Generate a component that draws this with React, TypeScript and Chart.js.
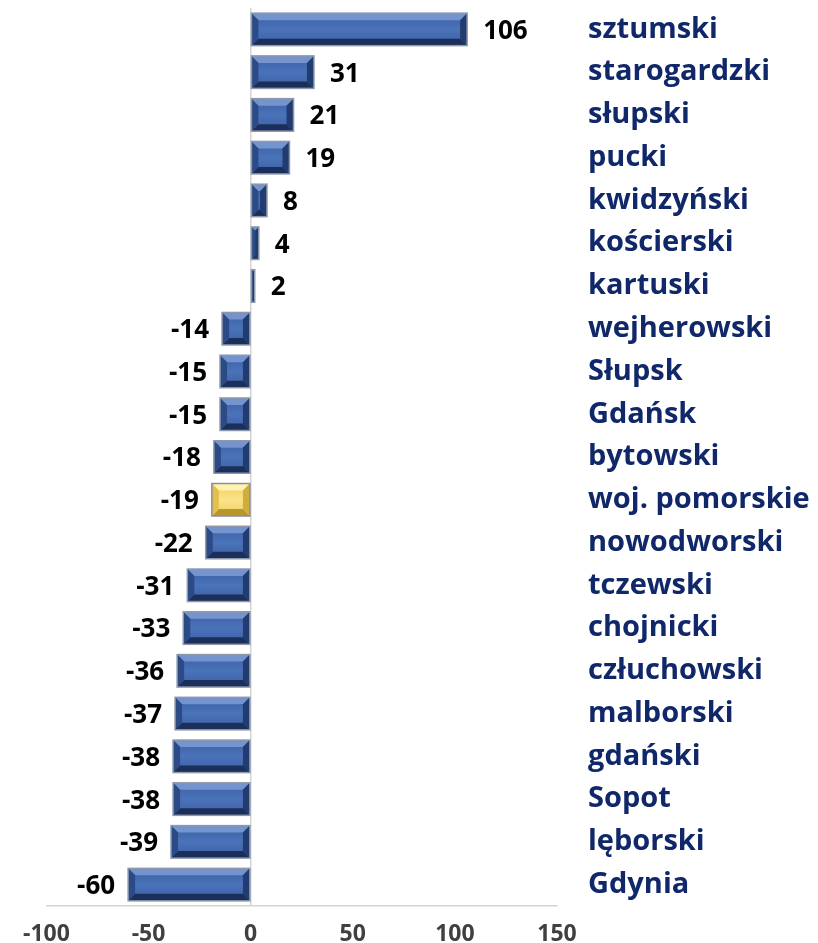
import React, { useEffect, useRef } from "react";
import { Chart, registerables } from "chart.js";

Chart.register(...registerables);

const categories = [
  "sztumski", "starogardzki", "słupski", "pucki", "kwidzyński", "kościerski", "kartuski",
  "wejherowski", "Słupsk", "Gdańsk", "bytowski", "woj. pomorskie", "nowodworski", "tczewski",
  "chojnicki", "człuchowski", "malborski", "gdański", "Sopot", "lęborski", "Gdynia",
];
const values = [106, 31, 21, 19, 8, 4, 2, -14, -15, -15, -18, -19, -22, -31, -33, -36, -37, -38, -38, -39, -60];
const highlightLabel = "woj. pomorskie";
const xMin = -100;
const xMax = 150;
const xStep = 50;

const FONT = "'Open Sans', 'Noto Sans', sans-serif";

const blue = { face1: "#3a5fa3", face2: "#4b73ba", top: "#7593cc", bottom: "#1b2f5a", left: "#2c4a85", right: "#223c70", outline: "#8d99ab" };
const yellow = { face1: "#f1d05c", face2: "#fbe38a", top: "#fff3b0", bottom: "#b8962e", left: "#e3c04d", right: "#d0ad3c", outline: "#8d8f99" };

const bevelPlugin = {
  id: "bevelBars",
  afterDatasetsDraw(chart: any) {
    const ctx = chart.ctx as CanvasRenderingContext2D;
    const meta = chart.getDatasetMeta(0);
    meta.data.forEach((el: any, i: number) => {
      const p = el.getProps(["x", "y", "base", "height"], true);
      const l = Math.min(p.x, p.base);
      const r = Math.max(p.x, p.base);
      const t = p.y - p.height / 2;
      const b = p.y + p.height / 2;
      const w = r - l;
      const h = b - t;
      const pal = categories[i] === highlightLabel ? yellow : blue;
      const bv = Math.min(7, w / 2, h / 2);
      ctx.save();
      const g = ctx.createLinearGradient(0, t, 0, b);
      g.addColorStop(0, pal.face1);
      g.addColorStop(0.5, pal.face2);
      g.addColorStop(1, pal.face1);
      ctx.fillStyle = g;
      ctx.fillRect(l, t, w, h);
      const poly = (pts: number[][], c: string) => {
        ctx.beginPath();
        ctx.moveTo(pts[0][0], pts[0][1]);
        for (let k = 1; k < pts.length; k++) ctx.lineTo(pts[k][0], pts[k][1]);
        ctx.closePath();
        ctx.fillStyle = c;
        ctx.fill();
      };
      poly([[l, t], [r, t], [r - bv, t + bv], [l + bv, t + bv]], pal.top);
      poly([[l, b], [r, b], [r - bv, b - bv], [l + bv, b - bv]], pal.bottom);
      poly([[l, t], [l + bv, t + bv], [l + bv, b - bv], [l, b]], pal.left);
      poly([[r, t], [r - bv, t + bv], [r - bv, b - bv], [r, b]], pal.right);
      ctx.strokeStyle = pal.outline;
      ctx.lineWidth = 1.5;
      ctx.strokeRect(l, t, w, h);
      ctx.restore();
    });
  },
};

const labelPlugin = {
  id: "valueLabels",
  afterDatasetsDraw(chart: any) {
    const ctx = chart.ctx as CanvasRenderingContext2D;
    const meta = chart.getDatasetMeta(0);
    ctx.save();
    ctx.font = `bold 26px ${FONT}`;
    ctx.fillStyle = "#000000";
    ctx.textBaseline = "middle";
    meta.data.forEach((el: any, i: number) => {
      const v = values[i];
      const p = el.getProps(["x", "y"], true);
      if (v >= 0) {
        ctx.textAlign = "left";
        ctx.fillText(String(v), p.x + 16, p.y + 2);
      } else {
        ctx.textAlign = "right";
        ctx.fillText(String(v), p.x - 13, p.y + 2);
      }
    });
    ctx.restore();
  },
};

export default function App() {
  const ref = useRef<HTMLCanvasElement | null>(null);
  useEffect(() => {
    if (!ref.current) return;
    const chart = new Chart(ref.current, {
      type: "bar",
      data: {
        labels: categories,
        datasets: [
          {
            data: values,
            backgroundColor: "rgba(0,0,0,0)",
            borderWidth: 0,
            barPercentage: 0.76,
            categoryPercentage: 1,
          },
        ],
      },
      options: {
        indexAxis: "y",
        animation: false,
        responsive: true,
        maintainAspectRatio: false,
        layout: { padding: { left: 19, top: 0, right: 0, bottom: 0 } },
        plugins: { legend: { display: false }, tooltip: { enabled: false } },
        scales: {
          x: {
            min: xMin,
            max: xMax,
            ticks: {
              stepSize: xStep,
              color: "#404040",
              font: { family: FONT, size: 23, weight: "bold" },
              padding: 15,
            },
            grid: {
              drawTicks: false,
              color: (c: any) => (c.tick && c.tick.value === 0 ? "#d4d4d4" : "rgba(0,0,0,0)"),
              lineWidth: 1.5,
            },
            border: { display: true, color: "#d4d4d4", width: 1.5 },
            afterFit: (s: any) => {
              s.height = 37;
            },
          },
          y: {
            position: "right",
            grid: { display: false, drawTicks: false },
            border: { display: false },
            ticks: {
              color: "#10286a",
              font: { family: FONT, size: 29, weight: "bold" },
              padding: 31,
              crossAlign: "near",
            },
            afterFit: (s: any) => {
              s.width = 253;
              s.paddingTop = 0;
              s.paddingBottom = 0;
            },
          },
        },
      },
      plugins: [bevelPlugin, labelPlugin],
    });
    return () => chart.destroy();
  }, []);
  return (
    <div style={{ position: "relative", width: "100%", height: "935px" }}>
      <canvas ref={ref} />
    </div>
  );
}
